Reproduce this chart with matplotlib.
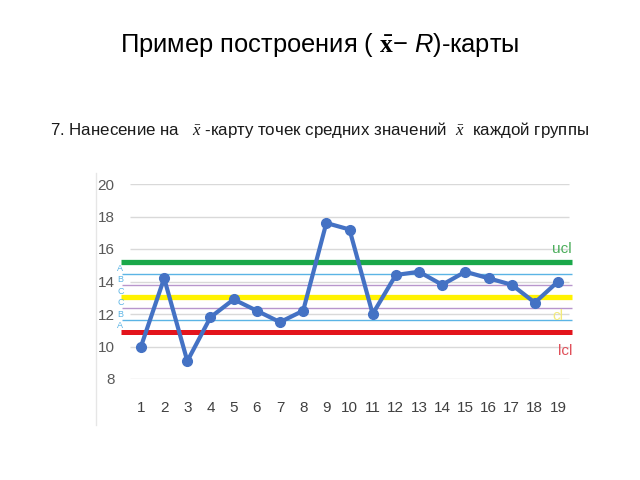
import matplotlib
matplotlib.use('Agg')
import matplotlib.pyplot as plt
from matplotlib.lines import Line2D

# data
groups = list(range(1, 20))
x_means = [10.0, 14.2, 9.1, 11.8, 12.9, 12.2, 11.5, 12.2, 17.6, 17.2,
           12.0, 14.4, 14.6, 13.8, 14.6, 14.2, 13.8, 12.7, 14.0]
y_ticks = [8, 10, 12, 14, 16, 18, 20]

ucl = 15.17
cl = 13.05
lcl = 10.9
sigma = (ucl - cl) / 3
zone_lines = [cl + 2 * sigma, cl + sigma, cl - sigma, cl - 2 * sigma]
zone_colors = ['#5bb4e5', '#b896cc', '#b896cc', '#5bb4e5']
zone_letters = ['A', 'B', 'C', 'C', 'B', 'A']

plt.rcParams['font.family'] = ['Liberation Sans', 'DejaVu Sans']
plt.rcParams['mathtext.fontset'] = 'custom'
plt.rcParams['mathtext.rm'] = 'Liberation Serif:italic'
plt.rcParams['mathtext.it'] = 'Liberation Sans:italic'
plt.rcParams['mathtext.bf'] = 'Liberation Serif:bold'

fig = plt.figure(figsize=(6.4, 4.8), dpi=100)

fig.text(0.5, 0.906, 'Пример построения ( $\\mathbf{\\bar{x}}$− $R$)-карты',
         ha='center', va='center', fontsize=18.4, color='black')
fig.text(0.5, 0.729,
         '7. Нанесение на   $\\mathrm{\\bar{x}}$ -карту точек средних значений  $\\mathrm{\\bar{x}}$  каждой группы',
         ha='center', va='center', fontsize=12.2, color='#1a1a1a')

# thin frame line at the left of the pasted chart
fig.add_artist(Line2D([96 / 640, 96 / 640], [1 - 173 / 480, 1 - 425 / 480],
                      transform=fig.transFigure, color='#e6e6e6', lw=1))

ax = fig.add_axes([120 / 640, 1 - 379 / 480, 454 / 640, 195 / 480])
ax.set_xlim(0.094, 19.69)
ax.set_ylim(8, 20)

ax.hlines(y_ticks, 0.525, 19.47, color='#d9d9d9', lw=1, zorder=1)

# control limits and zones
ax.hlines(zone_lines, 0.17, 19.6, colors=zone_colors, lw=1, zorder=2)
ax.hlines(ucl, 0.137, 19.6, color='#1aa84a', lw=3.8, zorder=3)
ax.hlines(cl, 0.137, 19.6, color='#fff200', lw=3.8, zorder=3)
ax.hlines(lcl, 0.137, 19.6, color='#e3141c', lw=3.6, zorder=3)

bounds = [ucl, zone_lines[0], zone_lines[1], cl, zone_lines[2], zone_lines[3], lcl]
for i, letter in enumerate(zone_letters):
    ax.text(-0.02, (bounds[i] + bounds[i + 1]) / 2, letter, color='#5bb4e5',
            fontsize=6.5, ha='left', va='center', clip_on=False)

ax.text(19.17, 15.97, 'ucl', color='#4cae5c', fontsize=11, ha='center', va='center')
ax.text(19.0, 11.9, 'cl', color='#f2ea7a', fontsize=11, ha='center', va='center')
ax.text(19.3, 9.75, 'lcl', color='#e0505a', fontsize=11, ha='center', va='center')

ax.plot(groups, x_means, color='#4472c4', lw=3, marker='o', markersize=7,
        zorder=5, clip_on=False)

ax.set_yticks(y_ticks)
ax.set_xticks(groups)
ax.tick_params(axis='y', length=0, pad=4, labelsize=11, labelcolor='#595959')
ax.tick_params(axis='x', length=0, pad=16, labelsize=11, labelcolor='#404040')
for s in ax.spines.values():
    s.set_visible(False)
ax.set_facecolor('none')

fig.savefig('out.png', dpi=100)
